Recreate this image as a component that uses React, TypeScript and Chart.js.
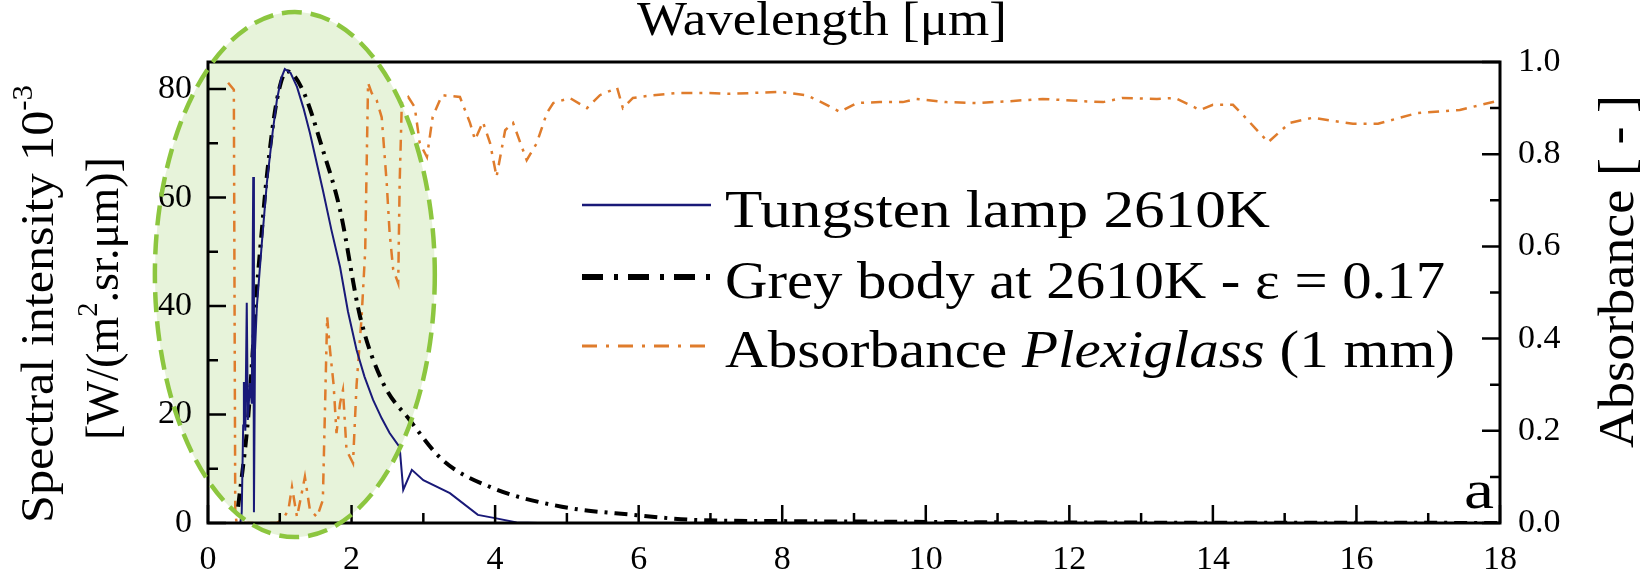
import React, { useEffect, useRef } from 'react';
import { Chart, registerables } from 'chart.js';

Chart.register(...registerables);

// ---------- data ----------
// Tungsten lamp 2610K, spectral intensity x10^-3 [W/(m2.sr.µm)]
const lampX = [0.45, 0.47, 0.49, 0.5, 0.52, 0.54, 0.555, 0.585, 0.61, 0.63, 0.64, 0.655, 0.68, 0.75, 0.82, 0.9, 0.96, 1.02, 1.07, 1.15, 1.24, 1.33, 1.42, 1.6, 1.72, 1.84, 1.95, 2.07, 2.18, 2.3, 2.42, 2.53, 2.67, 2.72, 2.84, 3.0, 3.37, 3.76, 4.0, 4.3, 4.6, 6, 8, 10, 12, 14, 16, 18];
const lampY = [0, 2, 18, 26, 17, 40.6, 19, 25.8, 22, 63.8, 2, 31.9, 39.8, 51.6, 62.7, 72, 78, 82, 83.7, 83, 80.4, 76.5, 71.9, 61.4, 54, 47.2, 39, 31.9, 27, 22.7, 19.3, 16.6, 14, 6.1, 9.8, 7.9, 5.5, 1.5, 0.9, 0.1, 0, 0, 0, 0, 0, 0, 0, 0];

// Grey body at 2610K, emissivity 0.17
const greyX = [0.42, 0.56, 0.62, 0.68, 0.75, 0.82, 0.96, 1.1, 1.32, 1.6, 1.84, 2.12, 2.44, 2.81, 3.27, 3.94, 4.93, 5.93, 6.8, 8, 10, 12, 14, 16, 18];
const greyY = [3, 19.5, 31, 43, 54, 64, 78, 83.3, 79.8, 68.8, 57.7, 38, 25.8, 19, 11.6, 6.6, 3.0, 1.5, 0.55, 0.35, 0.2, 0.1, 0.05, 0.03, 0.02];

// Absorbance of Plexiglass (1 mm), right axis
const absX = [0.28, 0.36, 0.38, 0.4, 0.96, 1.05, 1.12, 1.17, 1.24, 1.3, 1.35, 1.42, 1.52, 1.6, 1.66, 1.7, 1.75, 1.79, 1.84, 1.88, 1.93, 2.02, 2.07, 2.14, 2.19, 2.23, 2.28, 2.35, 2.42, 2.49, 2.53, 2.58, 2.65, 2.67, 2.7, 2.79, 2.88, 2.95, 3.05, 3.13, 3.26, 3.51, 3.65, 3.72, 3.83, 3.93, 4.02, 4.14, 4.25, 4.44, 4.58, 4.72, 4.81, 5.04, 5.28, 5.46, 5.7, 5.78, 5.92, 6.2, 6.57, 6.95, 7.27, 7.97, 8.34, 8.57, 8.8, 9.04, 9.36, 9.68, 9.87, 10.29, 10.71, 11.17, 11.63, 12.19, 12.47, 12.74, 13.22, 13.47, 13.82, 14.0, 14.28, 14.42, 14.77, 15.07, 15.39, 15.95, 16.3, 16.84, 17.44, 18.0];
const absY = [0.955, 0.94, 0.02, 0.0, 0.0, 0.01, 0.028, 0.078, 0.013, 0.06, 0.1, 0.028, 0.013, 0.05, 0.447, 0.375, 0.3, 0.195, 0.26, 0.288, 0.158, 0.13, 0.3, 0.447, 0.59, 0.955, 0.933, 0.917, 0.88, 0.737, 0.63, 0.55, 0.52, 0.737, 0.911, 0.924, 0.902, 0.824, 0.794, 0.881, 0.928, 0.924, 0.868, 0.831, 0.87, 0.824, 0.751, 0.852, 0.868, 0.787, 0.824, 0.889, 0.911, 0.922, 0.9, 0.928, 0.944, 0.9, 0.922, 0.928, 0.933, 0.933, 0.931, 0.935, 0.928, 0.911, 0.892, 0.911, 0.913, 0.913, 0.92, 0.913, 0.911, 0.915, 0.92, 0.915, 0.913, 0.922, 0.92, 0.922, 0.896, 0.907, 0.907, 0.885, 0.826, 0.868, 0.879, 0.866, 0.866, 0.889, 0.896, 0.917];

const seriesLabels = ['Tungsten lamp 2610K', 'Grey body at 2610K - ε = 0.17', 'Absorbance Plexiglass (1 mm)'];

// axis ranges / tick steps
const X_MIN = 0, X_MAX = 18, X_STEP = 1, X_LABEL_EVERY = 2;
const YL_MIN = 0, YL_MAX = 85, YL_STEP = 10, YL_LABEL_EVERY = 20;
const YR_MIN = 0, YR_MAX = 1, YR_STEP = 0.1;

// highlighted region (ellipse) in data units: centre and radii
const ELLIPSE = { cx: 1.21, cy: 45.8, rx: 1.95, ry: 48.4 };

// ---------- styles ----------
const FONT = '"Liberation Serif", serif';
const C_LAMP = '#191978';
const C_GREY = '#000000';
const C_ABS = '#df7c2c';

type Part = { t: string; italic?: boolean; sup?: boolean };

function drawRich(ctx: CanvasRenderingContext2D, parts: Part[], size: number, x: number, y: number, targetW: number, rotate = false) {
  const fontFor = (p: Part) => `${p.italic ? 'italic ' : ''}${p.sup ? Math.round(size * 0.62) : size}px ${FONT}`;
  ctx.save();
  let total = 0;
  for (const p of parts) {
    ctx.font = fontFor(p);
    total += ctx.measureText(p.t).width;
  }
  const sx = targetW ? targetW / total : 1;
  ctx.translate(x, y);
  if (rotate) ctx.rotate(-Math.PI / 2);
  ctx.scale(sx, 1);
  ctx.textBaseline = 'alphabetic';
  ctx.textAlign = 'left';
  ctx.fillStyle = '#000';
  let cx = 0;
  for (const p of parts) {
    ctx.font = fontFor(p);
    ctx.fillText(p.t, cx, p.sup ? -size * 0.45 : 0);
    cx += ctx.measureText(p.t).width;
  }
  ctx.restore();
}

const ellipsePath = (chart: any) => {
  const xs = chart.scales.x, ys = chart.scales.y;
  const px = xs.getPixelForValue(ELLIPSE.cx);
  const py = ys.getPixelForValue(ELLIPSE.cy);
  const rx = xs.getPixelForValue(ELLIPSE.cx + ELLIPSE.rx) - px;
  const ry = py - ys.getPixelForValue(ELLIPSE.cy + ELLIPSE.ry);
  const ctx: CanvasRenderingContext2D = chart.ctx;
  ctx.beginPath();
  ctx.ellipse(px, py, rx, ry, 0, 0, Math.PI * 2);
};

const decorPlugin = {
  id: 'decor',
  beforeDraw(chart: any) {
    const ctx: CanvasRenderingContext2D = chart.ctx;
    ctx.save();
    ctx.fillStyle = '#ffffff';
    ctx.fillRect(0, 0, chart.width, chart.height);
    ellipsePath(chart);
    ctx.fillStyle = 'rgba(140,200,80,0.21)';
    ctx.fill();
    ctx.restore();
  },
  afterDatasetsDraw(chart: any) {
    const ctx: CanvasRenderingContext2D = chart.ctx;
    const a = chart.chartArea;
    const xs = chart.scales.x, yl = chart.scales.y, yr = chart.scales.y2;
    ctx.save();
    // frame
    ctx.strokeStyle = '#000';
    ctx.lineWidth = 3;
    ctx.setLineDash([]);
    ctx.strokeRect(a.left, a.top, a.right - a.left, a.bottom - a.top);
    // inward ticks
    ctx.lineWidth = 2.5;
    ctx.beginPath();
    for (const t of xs.ticks) {
      const v = t.value;
      if (Math.abs(v - Math.round(v)) > 1e-6) continue;
      const p = xs.getPixelForValue(v);
      const len = Math.round(v) % X_LABEL_EVERY === 0 ? 18 : 10;
      ctx.moveTo(p, a.bottom);
      ctx.lineTo(p, a.bottom - len);
    }
    for (const t of yl.ticks) {
      const v = t.value;
      if (Math.abs(v % YL_STEP) > 1e-6) continue;
      const p = yl.getPixelForValue(v);
      const len = v % YL_LABEL_EVERY === 0 ? 18 : 10;
      ctx.moveTo(a.left, p);
      ctx.lineTo(a.left + len, p);
    }
    for (const t of yr.ticks) {
      const v = t.value;
      const k = Math.round(v * 10);
      const p = yr.getPixelForValue(v);
      const len = k % 2 === 0 ? 18 : 10;
      ctx.moveTo(a.right, p);
      ctx.lineTo(a.right - len, p);
    }
    ctx.stroke();

    // dashed ellipse outline
    ellipsePath(chart);
    ctx.strokeStyle = '#8cc63f';
    ctx.lineWidth = 4.5;
    ctx.setLineDash([20, 9]);
    ctx.stroke();
    ctx.setLineDash([]);

    // legend
    const rows = [
      { parts: [{ t: seriesLabels[0] }], color: C_LAMP, width: 2.5, dash: [] as number[], ly: 205, by: 227, w: 545 },
      { parts: [{ t: seriesLabels[1] }], color: C_GREY, width: 6, dash: [21, 11, 4, 10], ly: 277, by: 298, w: 720 },
      { parts: [{ t: 'Absorbance ' }, { t: 'Plexiglass', italic: true }, { t: ' (1 mm)' }], color: C_ABS, width: 3, dash: [15, 9, 3, 9], ly: 346, by: 367, w: 730 },
    ];
    for (const r of rows) {
      ctx.beginPath();
      ctx.strokeStyle = r.color;
      ctx.lineWidth = r.width;
      ctx.setLineDash(r.dash);
      ctx.moveTo(582, r.ly);
      ctx.lineTo(711, r.ly);
      ctx.stroke();
      ctx.setLineDash([]);
      drawRich(ctx, r.parts as Part[], 53, 725, r.by, r.w);
    }

    // panel letter
    drawRich(ctx, [{ t: 'a' }], 54, a.right - 36, a.bottom - 15, 30);

    // axis titles
    drawRich(ctx, [{ t: 'Wavelength [μm]' }], 48, 637, 35, 370);
    drawRich(ctx, [{ t: 'Spectral intensity 10' }, { t: '-3', sup: true }], 47, 53, 523, 438, true);
    drawRich(ctx, [{ t: '[W/(m' }, { t: '2', sup: true }, { t: '.sr.μm)]' }], 47, 118, 440, 283, true);
    drawRich(ctx, [{ t: 'Absorbance [ - ]' }], 50, 1633, 448, 353, true);
    ctx.restore();
  },
};

export default function App() {
  const ref = useRef<HTMLCanvasElement | null>(null);
  useEffect(() => {
    document.body.style.margin = '0';
    const canvas = ref.current;
    if (!canvas) return;
    const tickFont = { family: FONT, size: 34 };
    const chart = new Chart(canvas, {
      type: 'line',
      data: {
        datasets: [
          {
            label: seriesLabels[0],
            data: lampX.map((x, i) => ({ x, y: lampY[i] })),
            yAxisID: 'y',
            borderColor: C_LAMP,
            borderWidth: 2,
            pointRadius: 0,
            tension: 0,
            order: 0,
          },
          {
            label: seriesLabels[1],
            data: greyX.map((x, i) => ({ x, y: greyY[i] })),
            yAxisID: 'y',
            borderColor: C_GREY,
            borderWidth: 4,
            borderDash: [13, 7, 3, 7],
            pointRadius: 0,
            cubicInterpolationMode: 'monotone',
            order: 1,
          },
          {
            label: seriesLabels[2],
            data: absX.map((x, i) => ({ x, y: absY[i] })),
            yAxisID: 'y2',
            borderColor: C_ABS,
            borderWidth: 2.5,
            borderDash: [11, 7, 3, 7],
            pointRadius: 0,
            tension: 0,
            order: 2,
          },
        ],
      },
      options: {
        responsive: false,
        animation: false,
        devicePixelRatio: 1,
        layout: { padding: { top: 62, left: 0, right: 0, bottom: 0 } },
        plugins: { legend: { display: false }, tooltip: { enabled: false } },
        scales: {
          x: {
            type: 'linear',
            position: 'bottom',
            min: X_MIN,
            max: X_MAX,
            grid: { display: false, drawTicks: false },
            border: { display: false },
            ticks: {
              stepSize: X_STEP,
              autoSkip: false,
              includeBounds: false,
              maxRotation: 0,
              padding: 17,
              color: '#000',
              font: tickFont,
              callback: (v: any) => (Math.round(v) % X_LABEL_EVERY === 0 ? String(Math.round(v)) : ''),
            },
            afterFit: (s: any) => { s.height = 49; },
          },
          y: {
            type: 'linear',
            position: 'left',
            min: YL_MIN,
            max: YL_MAX,
            grid: { display: false, drawTicks: false },
            border: { display: false },
            ticks: {
              stepSize: YL_STEP,
              autoSkip: false,
              includeBounds: false,
              padding: 16,
              color: '#000',
              font: tickFont,
              callback: (v: any) => (Math.abs(v % YL_LABEL_EVERY) < 1e-6 ? String(v) : ''),
            },
            afterFit: (s: any) => { s.width = 208; },
          },
          y2: {
            type: 'linear',
            position: 'right',
            min: YR_MIN,
            max: YR_MAX,
            grid: { display: false, drawTicks: false },
            border: { display: false },
            ticks: {
              stepSize: YR_STEP,
              autoSkip: false,
              padding: 18,
              color: '#000',
              font: tickFont,
              callback: (v: any) => (Math.round(v * 10) % 2 === 0 ? Number(v).toFixed(1) : ''),
            },
            afterFit: (s: any) => { s.width = 147; },
          },
        },
      },
      plugins: [decorPlugin],
    });
    return () => chart.destroy();
  }, []);
  return <canvas ref={ref} width={1647} height={572} style={{ display: 'block' }} />;
}
